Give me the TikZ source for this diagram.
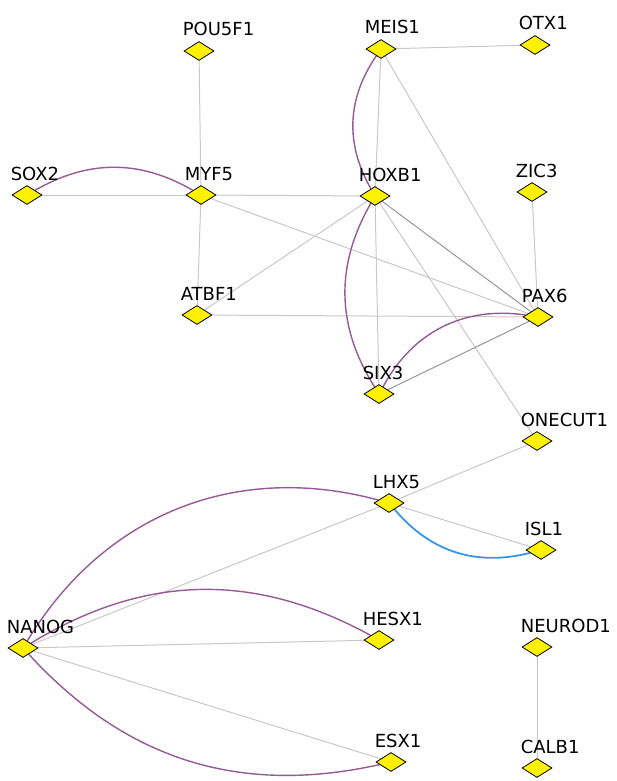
\documentclass[tikz,border=0pt]{standalone}
\usepackage{fontspec}
\setmainfont{DejaVu Sans}
\usetikzlibrary{shapes.geometric,backgrounds}

\definecolor{linkgray}{RGB}{200,200,200}
\definecolor{linkdark}{RGB}{150,150,150}
\definecolor{arcpurple}{RGB}{150,90,150}
\definecolor{arcblue}{RGB}{55,150,235}

\tikzset{
  gene/.style={diamond, draw=black, fill=yellow, line width=0.8pt, inner sep=0pt,
    minimum width=30pt, minimum height=19pt},
  genelabel/.style={anchor=base west, inner sep=0pt, xshift=-1pt, yshift=15pt,
    font=\fontsize{18}{20}\selectfont},
  link/.style={draw=linkgray, line width=1pt},
  strong/.style={draw=linkdark, line width=1pt},
  coexp/.style={draw=arcpurple, line width=1.4pt},
  bind/.style={draw=arcblue, line width=1.8pt}
}

\begin{document}
\begin{tikzpicture}[x=1pt, y=1pt]
  \useasboundingbox (0,0) rectangle (616,-781);

  \node (pou5f1) [gene, label={[genelabel]west:POU5F1}] at (199,-51) {};
  \node (meis1) [gene, label={[genelabel]west:MEIS1}] at (381,-49) {};
  \node (otx1) [gene, label={[genelabel]west:OTX1}] at (535,-45) {};

  \node (sox2) [gene, label={[genelabel]west:SOX2}] at (27,-195) {};
  \node (myf5) [gene, label={[genelabel]west:MYF5}] at (201,-195) {};
  \node (hoxb1) [gene, label={[genelabel]west:HOXB1}] at (375,-196) {};
  \node (zic3) [gene, label={[genelabel]west:ZIC3}] at (532,-192) {};

  \node (atbf1) [gene, label={[genelabel]west:ATBF1}] at (197,-315) {};
  \node (pax6) [gene, label={[genelabel]west:PAX6}] at (538,-317) {};
  \node (six3) [gene, label={[genelabel]west:SIX3}] at (379,-394) {};
  \node (onecut1) [gene, label={[genelabel]west:ONECUT1}] at (537,-441) {};

  \node (lhx5) [gene, label={[genelabel]west:LHX5}] at (389,-503) {};
  \node (isl1) [gene, label={[genelabel]west:ISL1}] at (541,-550) {};

  \node (nanog) [gene, label={[genelabel]west:NANOG}] at (23,-648) {};
  \node (hesx1) [gene, label={[genelabel]west:HESX1}] at (379,-640) {};
  \node (neurod1) [gene, label={[genelabel]west:NEUROD1}] at (537,-647) {};
  \node (esx1) [gene, label={[genelabel]west:ESX1}] at (391,-762) {};
  \node (calb1) [gene, label={[genelabel]west:CALB1}] at (537,-768) {};

  \begin{scope}[on background layer]
    % plain links
    \draw [link] (pou5f1) -- (myf5);
    \draw [link] (sox2) -- (myf5);
    \draw [link] (myf5) -- (hoxb1);
    \draw [link] (myf5) -- (atbf1);
    \draw [link] (myf5) -- (pax6);
    \draw [link] (meis1) -- (otx1);
    \draw [link] (meis1) -- (hoxb1);
    \draw [link] (meis1) -- (pax6);
    \draw [link] (hoxb1) -- (atbf1);
    \draw [link] (hoxb1) -- (six3);
    \draw [link] (hoxb1) -- (onecut1);
    \draw [link] (zic3) -- (pax6);
    \draw [link] (atbf1) -- (pax6);
    \draw [link] (onecut1) -- (lhx5);
    \draw [link] (lhx5) -- (nanog);
    \draw [link] (lhx5) -- (isl1);
    \draw [link] (nanog) -- (hesx1);
    \draw [link] (nanog) -- (esx1);
    \draw [link] (neurod1) -- (calb1);
    \draw [strong] (hoxb1) -- (pax6);
    \draw [strong] (six3) -- (pax6);

    % curved links
    \draw [coexp] (sox2) to [bend left=30] (myf5);
    \draw [coexp] (meis1) to [bend right=32] (hoxb1);
    \draw [coexp] (hoxb1) to [bend right=31] (six3);
    \draw [coexp] (six3) to [bend left=35] (pax6);
    \draw [coexp] (nanog) to [bend left=37] (lhx5);
    \draw [coexp] (nanog) to [bend left=30] (hesx1);
    \draw [coexp] (nanog) to [bend right=30] (esx1);
    \draw [bind] (lhx5) to [bend right=32] (isl1);
  \end{scope}

\end{tikzpicture}
\end{document}
